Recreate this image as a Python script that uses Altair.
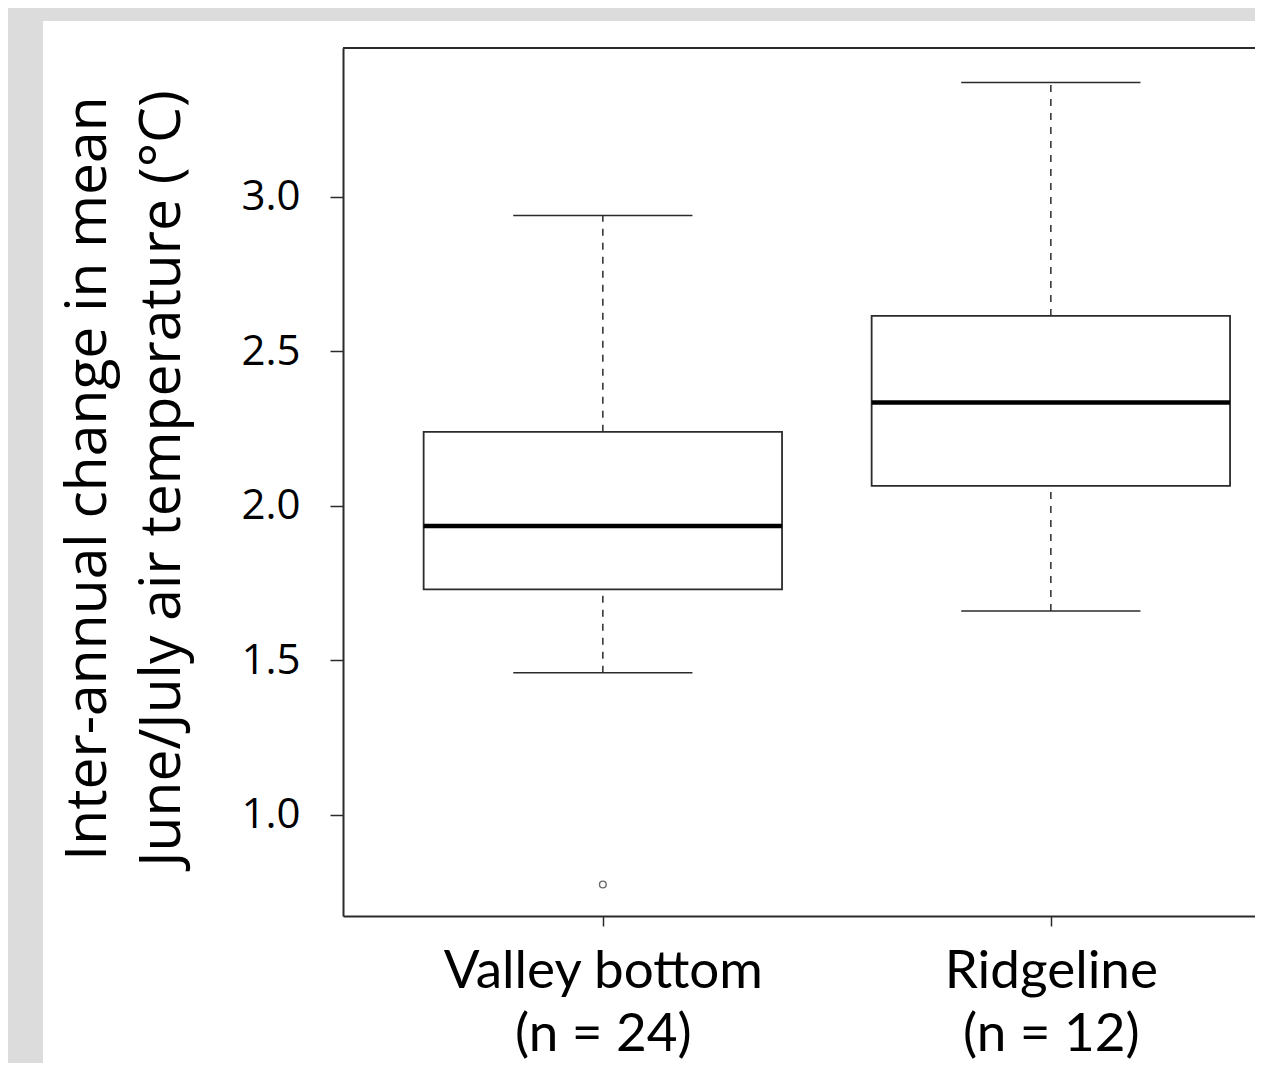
import altair as alt
import pandas as pd

# ---- data ----
groups = ["Valley bottom", "Ridgeline"]
n_labels = ["(n = 24)", "(n = 12)"]
positions = [1, 2]
whisker_low = [1.46, 1.66]
q1 = [1.73, 2.065]
median = [1.935, 2.335]
q3 = [2.24, 2.615]
whisker_high = [2.94, 3.37]
outlier_group = [1]
outlier_value = [0.775]
y_ticks = [1.0, 1.5, 2.0, 2.5, 3.0]
y_title = ["Inter-annual change in mean", "June/July air temperature (°C)"]

boxes = pd.DataFrame({
    "pos": positions, "group": groups, "lo": whisker_low, "q1": q1,
    "med": median, "q3": q3, "hi": whisker_high,
})
outliers = pd.DataFrame({"pos": outlier_group, "value": outlier_value})

W, H = 912, 868
xdom = [0.42, 0.42 + W / 448.0]
ydom = [0.673, 3.482]

label_expr = " : ".join(
    [f"datum.value == {p} ? ['{g}', '{n}']" for p, g, n in zip(positions, groups, n_labels)]
) + " : ''"

FONT_Y = "Open Sans"
FONT_X = "Lato"
LINE = "#2b2b2b"

xscale = alt.Scale(domain=xdom, nice=False, zero=False)
yscale = alt.Scale(domain=ydom, nice=False, zero=False)

x_axis = alt.Axis(
    values=positions, labelExpr=label_expr, title=None, grid=False, zindex=2,
    tickSize=10, tickColor=LINE, tickWidth=1.5, domainColor=LINE, domainWidth=2,
    labelFont=FONT_X, labelFontSize=53, labelColor="black", labelPadding=19,
    labelBaseline="top", labelLineHeight=63, labelFlush=False, labelOverlap=False,
    labelLimit=0,
)
y_axis = alt.Axis(
    values=y_ticks, format=".1f", title=y_title, grid=False, zindex=2,
    tickSize=13, tickColor=LINE, tickWidth=1.5, domainColor=LINE, domainWidth=2,
    labelFont=FONT_Y, labelFontSize=42, labelColor="black", labelPadding=30,
    labelBaseline="middle", labelLimit=0,
    titleFont=FONT_Y, titleFontSize=57, titleFontWeight="normal", titleColor="black",
    titleAngle=-90, titleX=-238, titleY=430, titleAlign="center",
    titleBaseline="alphabetic", titleLineHeight=74, titleLimit=0,
)

base = alt.Chart(boxes)

# white panel behind the figure (decoration)
panel = alt.Chart(pd.DataFrame({"k": [0]})).mark_rect(color="white", clip=False).encode(
    x=alt.value(-300), x2=alt.value(W + 50), y=alt.value(-27), y2=alt.value(H + 300)
)

frame_top = alt.Chart(pd.DataFrame({"k": [0]})).mark_rule(color=LINE, strokeWidth=2).encode(
    x=alt.value(0), x2=alt.value(W), y=alt.value(0)
)

upper_whisker = base.mark_rule(color=LINE, strokeWidth=1.5, strokeDash=[7, 7]).encode(
    x=alt.X("pos:Q", scale=xscale, axis=x_axis),
    y=alt.Y("q3:Q", scale=yscale, axis=y_axis),
    y2="hi:Q",
)
lower_whisker = base.mark_rule(color=LINE, strokeWidth=1.5, strokeDash=[7, 7]).encode(
    x="pos:Q", y="lo:Q", y2="q1:Q"
)
caps_hi = base.mark_rule(color=LINE, strokeWidth=1.5).transform_calculate(
    l="datum.pos - 0.2", r="datum.pos + 0.2"
).encode(x="l:Q", x2="r:Q", y="hi:Q")
caps_lo = base.mark_rule(color=LINE, strokeWidth=1.5).transform_calculate(
    l="datum.pos - 0.2", r="datum.pos + 0.2"
).encode(x="l:Q", x2="r:Q", y="lo:Q")
box = base.mark_rect(fill="white", stroke=LINE, strokeWidth=1.8).transform_calculate(
    l="datum.pos - 0.4", r="datum.pos + 0.4"
).encode(x="l:Q", x2="r:Q", y="q1:Q", y2="q3:Q")
med = base.mark_rule(color="black", strokeWidth=4.5).transform_calculate(
    l="datum.pos - 0.4", r="datum.pos + 0.4"
).encode(x="l:Q", x2="r:Q", y="med:Q")
outs = alt.Chart(outliers).mark_point(
    shape="circle", filled=False, color=LINE, size=45, strokeWidth=1.4
).encode(x="pos:Q", y="value:Q")

chart = alt.layer(
    panel, frame_top, upper_whisker, lower_whisker, caps_hi, caps_lo, box, med, outs
).properties(
    width=W, height=H,
    autosize=alt.AutoSizeParams(type="none"),
    padding={"left": 335, "top": 40, "right": 0, "bottom": 147},
    background="#dcdcdc",
).configure_view(stroke=None)

chart.save("out.html", embed_options={"renderer": "svg", "actions": False})
